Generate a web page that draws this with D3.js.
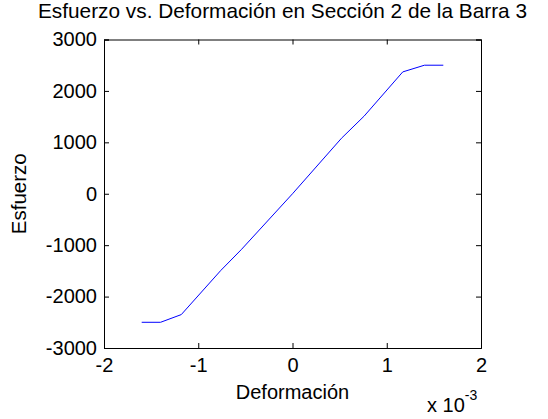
<!DOCTYPE html>
<html>
<head>
<meta charset="utf-8">
<script src="https://d3js.org/d3.v7.min.js"></script>
<style>
  body { margin: 0; background: white; font-family: "Liberation Sans", Arial, sans-serif; }
  svg text { fill: black; }
</style>
</head>
<body>
<div id="chart"></div>
<script>
// strain values (x 10^-3) and stress
var deformacion = [-1.6, -1.4, -1.18, -0.76, -0.54, 0, 0.52, 0.76, 1.17, 1.4, 1.6];
var esfuerzo = [-2500, -2500, -2350, -1490, -1080, 0, 1080, 1510, 2370, 2500, 2500];
var xTicks = [-2, -1, 0, 1, 2];
var yTicks = [-3000, -2000, -1000, 0, 1000, 2000, 3000];

var width = 548, height = 419;
var margin = {left: 104, right: 67, top: 39.5, bottom: 71};
var iw = width - margin.left - margin.right,
    ih = height - margin.top - margin.bottom;

var svg = d3.select("#chart").append("svg")
    .attr("width", width)
    .attr("height", height);

var x = d3.scaleLinear().domain([-2, 2]).range([0, iw]);
var y = d3.scaleLinear().domain([-3000, 3000]).range([ih, 0]);

var g = svg.append("g")
    .attr("transform", "translate(" + margin.left + "," + margin.top + ")");

// plain hyphen minus, as in the picture
var fmt = function(d) { return String(d); };

// inward ticks on all four sides, like a boxed axes
var tk = 5;
g.append("g").attr("transform", "translate(0," + ih + ")")
    .call(d3.axisBottom(x).tickValues(xTicks).tickSize(-tk).tickPadding(9.5).tickFormat(fmt));
g.append("g")
    .call(d3.axisTop(x).tickValues(xTicks).tickSize(-tk).tickFormat(""));
g.append("g")
    .call(d3.axisLeft(y).tickValues(yTicks).tickSize(-tk).tickPadding(7).tickFormat(fmt));
g.append("g").attr("transform", "translate(" + iw + ",0)")
    .call(d3.axisRight(y).tickValues(yTicks).tickSize(-tk).tickFormat(""));

g.selectAll(".domain").attr("stroke", "black").attr("stroke-width", 1);
g.selectAll(".tick line").attr("stroke", "black");
g.selectAll(".tick text")
    .style("font-family", "Liberation Sans, Arial, sans-serif")
    .style("font-size", "20px");

var line = d3.line()
    .x(function(d, i) { return x(deformacion[i]); })
    .y(function(d) { return y(d); });

g.append("path")
    .datum(esfuerzo)
    .attr("d", line)
    .attr("fill", "none")
    .attr("stroke", "#0000ff")
    .attr("stroke-width", 1);

// labels
svg.append("text")
    .attr("x", margin.left + iw / 2 - 10)
    .attr("y", 18)
    .attr("text-anchor", "middle")
    .style("font-size", "20.8px")
    .text("Esfuerzo vs. Deformación en Sección 2 de la Barra 3");

svg.append("text")
    .attr("x", margin.left + iw / 2)
    .attr("y", 399)
    .attr("text-anchor", "middle")
    .style("font-size", "20px")
    .text("Deformación");

svg.append("text")
    .attr("transform", "translate(26," + (margin.top + ih / 2) + ") rotate(-90)")
    .attr("text-anchor", "middle")
    .style("font-size", "20.5px")
    .text("Esfuerzo");

var exp = svg.append("text")
    .attr("x", 427)
    .attr("y", 412)
    .style("font-size", "20px");
exp.append("tspan").text("x 10");
exp.append("tspan").attr("dy", -12).style("font-size", "14px").text("-3");
</script>
</body>
</html>
